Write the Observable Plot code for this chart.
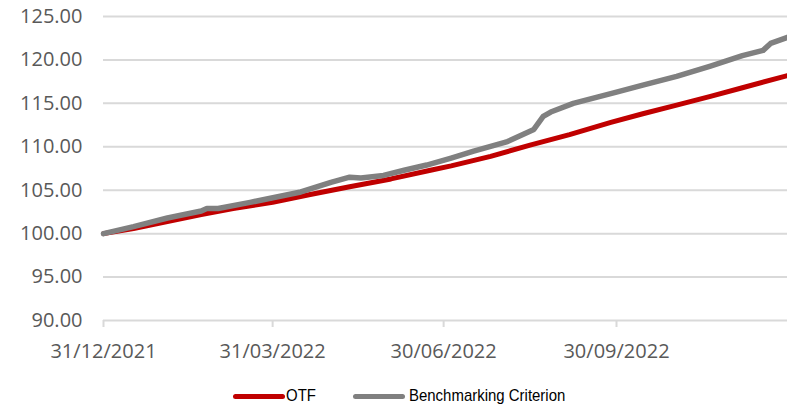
<!DOCTYPE html>
<html>
<head>
<meta charset="utf-8">
<script src="https://cdn.jsdelivr.net/npm/d3@7"></script>
<script src="https://cdn.jsdelivr.net/npm/@observablehq/plot@0.6"></script>
<style>
  html, body { margin: 0; padding: 0; background: #fff; }
  #wrap { position: relative; width: 787px; height: 414px; overflow: hidden; }
  #legend { position: absolute; left: 0; top: 384px; width: 787px; height: 28px;
    font-family: "Liberation Sans", Arial, sans-serif; font-size: 17px; color: #000; }
  .item { position: absolute; top: 2px; display: flex; align-items: center; white-space: nowrap; }
  .sw { display: inline-block; width: 52px; height: 5px; border-radius: 3px; }
  .lbl { display: inline-block; transform: scaleX(0.88); transform-origin: left center; }
</style>
</head>
<body>
<div id="wrap"><div id="chart"></div><div id="legend"></div></div>
<script>
const seriesNames = ["OTF", "Benchmarking Criterion"];
const seriesColors = ["#c00000", "#808080"];

const otfDates = ["2021-12-31","2022-01-16","2022-02-03","2022-02-21","2022-03-10","2022-03-31","2022-04-20","2022-05-11","2022-06-02","2022-06-23","2022-07-04","2022-07-25","2022-08-15","2022-09-05","2022-09-27","2022-10-14","2022-11-01","2022-11-19","2022-12-06","2022-12-30"];
const otfValues = [100.0,100.6,101.4,102.2,102.9,103.6,104.5,105.4,106.3,107.3,107.8,108.9,110.2,111.4,112.8,113.8,114.8,115.8,116.8,118.2];

const benchDates = ["2021-12-31","2022-01-16","2022-02-03","2022-02-21","2022-02-24","2022-03-02","2022-03-19","2022-04-04","2022-04-15","2022-05-01","2022-05-11","2022-05-17","2022-05-29","2022-06-09","2022-06-21","2022-07-04","2022-07-16","2022-08-03","2022-08-17","2022-08-22","2022-08-26","2022-09-07","2022-09-30","2022-10-14","2022-11-01","2022-11-19","2022-12-06","2022-12-17","2022-12-21","2022-12-30"];
const benchValues = [100.0,100.8,101.8,102.6,102.9,102.9,103.6,104.3,104.8,105.9,106.5,106.4,106.7,107.3,107.9,108.7,109.5,110.6,112.0,113.5,114.0,115.0,116.3,117.1,118.1,119.3,120.5,121.1,121.9,122.6];

const xTickDates = ["2021-12-31","2022-03-31","2022-06-30","2022-09-30"];
const yTicks = [90,95,100,105,110,115,120,125];
const xDomain = ["2021-12-31","2022-12-30"];

const parse = d3.utcParse("%Y-%m-%d");
const otf = otfDates.map((d, i) => ({date: parse(d), value: otfValues[i]}));
const bench = benchDates.map((d, i) => ({date: parse(d), value: benchValues[i]}));

const chart = Plot.plot({
  width: 787,
  height: 370,
  marginLeft: 103,
  marginRight: 0,
  marginTop: 16,
  marginBottom: 50,
  style: {fontFamily: "'Open Sans', sans-serif", fontSize: "20px", color: "#595959", background: "#fff"},
  x: {type: "utc", domain: xDomain.map(parse)},
  y: {domain: [90, 125]},
  marks: [
    Plot.gridY(yTicks, {stroke: "#d9d9d9", strokeOpacity: 1, strokeWidth: 2}),
    Plot.axisY({ticks: yTicks, tickSize: 0, tickPadding: 21, tickFormat: d => d.toFixed(2), label: null, fill: "#595959"}),
    Plot.axisX({ticks: xTickDates.map(parse), tickSize: 7, tickPadding: 16, tickFormat: d3.utcFormat("%d/%m/%Y"), label: null, stroke: "#d9d9d9", strokeWidth: 2, fill: "#595959"}),
    Plot.line(otf, {x: "date", y: "value", stroke: seriesColors[0], strokeWidth: 5, strokeLinejoin: "round", strokeLinecap: "round"}),
    Plot.line(bench, {x: "date", y: "value", stroke: seriesColors[1], strokeWidth: 5.5, strokeLinejoin: "round", strokeLinecap: "round"})
  ]
});
document.getElementById("chart").appendChild(chart);

const legend = document.getElementById("legend");
const lefts = [233, 353];
seriesNames.forEach((name, i) => {
  const it = document.createElement("div");
  it.className = "item";
  it.style.left = lefts[i] + "px";
  const sw = document.createElement("span");
  sw.className = "sw";
  sw.style.background = seriesColors[i];
  const tx = document.createElement("span");
  tx.className = "lbl";
  tx.textContent = name;
  tx.style.marginLeft = i === 0 ? "1px" : "4px";
  it.appendChild(sw); it.appendChild(tx);
  legend.appendChild(it);
});
</script>
</body>
</html>
